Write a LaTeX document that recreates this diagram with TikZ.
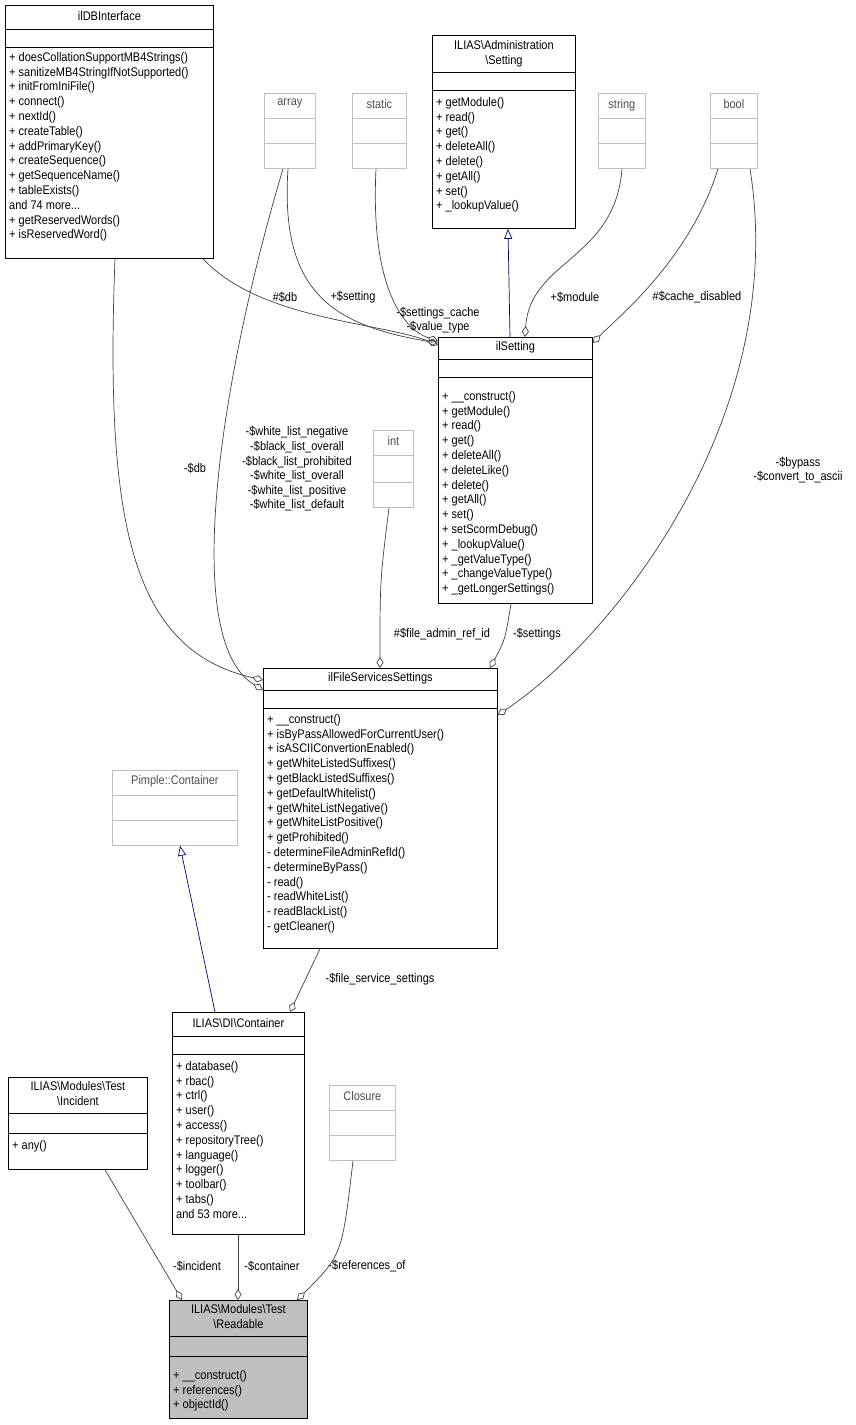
\documentclass[tikz,border=0pt]{standalone}
\usepackage{fontspec}
\setmainfont{Liberation Sans}[FakeStretch=0.88]
\usetikzlibrary{arrows.meta}
\definecolor{edgegray}{HTML}{404040}
\definecolor{boxgray}{HTML}{BFBFBF}
\newcommand{\classbox}[8]{%
  \node[cls, #8, minimum width=#4pt, minimum height=#5pt, anchor=north west] (#1) at (#2,#3) {};
  \draw[#8] (#1.west |- 0,#6) -- (#1.east |- 0,#6);
  \draw[#8] (#1.west |- 0,#7) -- (#1.east |- 0,#7);}
\begin{document}
\begin{tikzpicture}[
    x=1pt, y=-1pt,
    font=\fontsize{12.5}{14.8}\selectfont,
    cls/.style={rectangle, draw=black, line width=0.8pt, inner sep=0pt},
    ghost/.style={draw=boxgray},
    title/.style={anchor=north, inner sep=0pt, align=center},
    members/.style={anchor=north west, inner sep=0pt, align=left, xshift=4pt},
    ghosttext/.style={text=black!70},
    lbl/.style={inner sep=0pt, align=center, font=\fontsize{12.5}{14.6}\selectfont},
    use/.style={draw=edgegray, line width=0.7pt, -{Diamond[open,length=11pt,width=7pt]}},
    inherit/.style={draw=blue!45!black, line width=0.7pt, -{Triangle[open,length=10pt,width=8pt]}}
  ]
  \useasboundingbox (0,0) rectangle (855,1425);
  % classes
  \classbox{dbi}{5}{5}{208}{253}{29}{47}{}
  \node[title] (dbiT) at (dbi.north |- 0,11) {ilDBInterface};
  \node[members] (dbiM) at (dbi.west |- 0,52) {+ doesCollationSupportMB4Strings()\\+ sanitizeMB4StringIfNotSupported()\\+ initFromIniFile()\\+ connect()\\+ nextId()\\+ createTable()\\+ addPrimaryKey()\\+ createSequence()\\+ getSequenceName()\\+ tableExists()\\and 74 more...\\+ getReservedWords()\\+ isReservedWord()};

  \classbox{admset}{432}{35}{143}{193}{72}{90}{}
  \node[title] (admsetT) at (admset.north |- 0,40) {ILIAS\textbackslash Administration\\\textbackslash Setting};
  \node[members] (admsetM) at (admset.west |- 0,97) {+ getModule()\\+ read()\\+ get()\\+ deleteAll()\\+ delete()\\+ getAll()\\+ set()\\+ \_lookupValue()};

  \classbox{arr}{264}{93}{51}{75}{118}{143}{ghost}
  \node[title, ghosttext] (arrT) at (arr.north |- 0,99) {array};
  \classbox{stat}{352}{93}{54}{75}{118}{143}{ghost}
  \node[title, ghosttext] (statT) at (stat.north |- 0,99) {static};
  \classbox{str}{598}{93}{47}{75}{118}{143}{ghost}
  \node[title, ghosttext] (strT) at (str.north |- 0,99) {string};
  \classbox{bool}{710}{93}{47}{75}{118}{143}{ghost}
  \node[title, ghosttext] (boolT) at (bool.north |- 0,99) {bool};

  \classbox{ilset}{438}{337}{154}{266}{359}{377}{}
  \node[title] (ilsetT) at (ilset.north |- 0,341) {ilSetting};
  \node[members] (ilsetM) at (ilset.west |- 0,391) {+ \_\_construct()\\+ getModule()\\+ read()\\+ get()\\+ deleteAll()\\+ deleteLike()\\+ delete()\\+ getAll()\\+ set()\\+ setScormDebug()\\+ \_lookupValue()\\+ \_getValueType()\\+ \_changeValueType()\\+ \_getLongerSettings()};

  \classbox{int}{373}{430}{40}{77}{455}{482}{ghost}
  \node[title, ghosttext] (intT) at (int.north |- 0,436) {int};

  \classbox{ilfs}{263}{668}{234}{280}{690}{708}{}
  \node[title] (ilfsT) at (ilfs.north |- 0,672) {ilFileServicesSettings};
  \node[members] (ilfsM) at (ilfs.west |- 0,714) {+ \_\_construct()\\+ isByPassAllowedForCurrentUser()\\+ isASCIIConvertionEnabled()\\+ getWhiteListedSuffixes()\\+ getBlackListedSuffixes()\\+ getDefaultWhitelist()\\+ getWhiteListNegative()\\+ getWhiteListPositive()\\+ getProhibited()\\- determineFileAdminRefId()\\- determineByPass()\\- read()\\- readWhiteList()\\- readBlackList()\\- getCleaner()};

  \classbox{pimple}{112}{770}{125}{75}{795}{820}{ghost}
  \node[title, ghosttext] (pimpleT) at (pimple.north |- 0,775) {Pimple::Container};

  \classbox{dic}{172}{1012}{132}{222}{1036}{1054}{}
  \node[title] (dicT) at (dic.north |- 0,1018) {ILIAS\textbackslash DI\textbackslash Container};
  \node[members] (dicM) at (dic.west |- 0,1061) {+ database()\\+ rbac()\\+ ctrl()\\+ user()\\+ access()\\+ repositoryTree()\\+ language()\\+ logger()\\+ toolbar()\\+ tabs()\\and 53 more...};

  \classbox{inc}{8}{1077}{139}{92}{1113}{1133}{}
  \node[title] (incT) at (inc.north |- 0,1081) {ILIAS\textbackslash Modules\textbackslash Test\\\textbackslash Incident};
  \node[members] (incM) at (inc.west |- 0,1140) {+ any()};

  \classbox{clo}{329}{1085}{66}{75}{1110}{1135}{ghost}
  \node[title, ghosttext] (cloT) at (clo.north |- 0,1091) {Closure};

  \classbox{read}{169}{1300}{138}{118}{1336}{1356}{fill=boxgray}
  \node[title] (readT) at (read.north |- 0,1304) {ILIAS\textbackslash Modules\textbackslash Test\\\textbackslash Readable};
  \node[members] (readM) at (read.west |- 0,1370) {+ \_\_construct()\\+ references()\\+ objectId()};

  % inheritance
  \draw[inherit] (ilset.north -| 510,0) -- (admset.south -| 508,0);
  \draw[inherit] (dic.north -| 215,0) -- (pimple.south -| 180,0);

  % usage
  \draw[use] (dbi.south -| 203,0) .. controls (260,320) and (380,322) .. (ilset.west |- 0,345);
  \draw[use] (arr.south -| 288,0) .. controls (280,290) and (330,325) .. (ilset.west |- 0,343);
  \draw[use] (stat.south -| 376,0) .. controls (370,290) and (405,330) .. (ilset.west |- 0,341);
  \draw[use] (str.south -| 622,0) .. controls (615,260) and (530,260) .. (ilset.north -| 525,0);
  \draw[use] (bool.south -| 718,0) .. controls (690,260) and (615,320) .. (ilset.east |- 0,343);
  \draw[use] (dbi.south -| 115,0) .. controls (105,520) and (130,650) .. (ilfs.west |- 0,680);
  \draw[use] (arr.south -| 283,0) .. controls (220,380) and (180,640) .. (ilfs.west |- 0,690);
  \draw[use] (int.south -| 389,0) .. controls (380,580) .. (ilfs.north -| 380,0);
  \draw[use] (ilset.south -| 511,0) .. controls (505,640) .. (ilfs.north -| 490,0);
  \draw[use] (bool.south -| 750,0) .. controls (790,420) and (610,640) .. (ilfs.east |- 0,715);
  \draw[use] (ilfs.south -| 320,0) -- (dic.north -| 290,0);
  \draw[use] (inc.south -| 105,0) -- (read.north -| 182,0);
  \draw[use] (dic.south -| 238,0) -- (read.north -| 238,0);
  \draw[use] (clo.south -| 353,0) .. controls (342,1255) .. (read.north -| 297,0);

  % labels
  \node[lbl] (l1) at (285,297) {\#\$db};
  \node[lbl] (l2) at (353,297) {+\$setting};
  \node[lbl] (l3) at (438,320) {-\$settings\_cache\\-\$value\_type};
  \node[lbl] (l4) at (575,297) {+\$module};
  \node[lbl] (l5) at (697,297) {\#\$cache\_disabled};
  \node[lbl] (l6) at (195,468) {-\$db};
  \node[lbl] (l7) at (297,469) {-\$white\_list\_negative\\-\$black\_list\_overall\\-\$black\_list\_prohibited\\-\$white\_list\_overall\\-\$white\_list\_positive\\-\$white\_list\_default};
  \node[lbl] (l8) at (442,634) {\#\$file\_admin\_ref\_id};
  \node[lbl] (l9) at (537,634) {-\$settings};
  \node[lbl] (l10) at (798,470) {-\$bypass\\-\$convert\_to\_ascii};
  \node[lbl] (l11) at (380,979) {-\$file\_service\_settings};
  \node[lbl] (l12) at (197,1266) {-\$incident};
  \node[lbl] (l13) at (272,1266) {-\$container};
  \node[lbl] (l14) at (367,1266) {-\$references\_of};
\end{tikzpicture}
\end{document}
